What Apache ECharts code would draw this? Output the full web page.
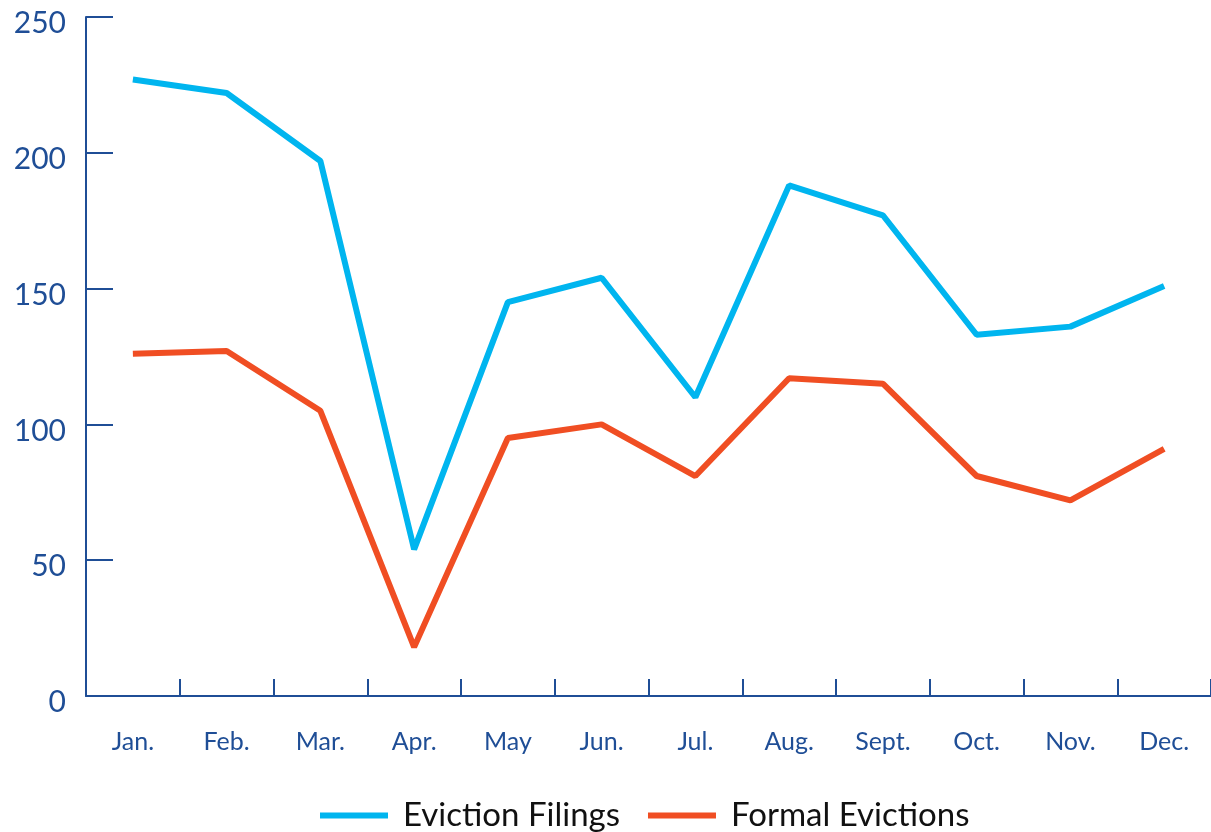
<!DOCTYPE html>
<html><head><meta charset="utf-8">
<script src="https://cdn.jsdelivr.net/npm/echarts@6/dist/echarts.min.js"></script>
<style>html,body{margin:0;padding:0;background:#fff}#c{width:1211px;height:832px}</style>
</head><body><div id="c"></div>
<script>
const categories = ['Jan.','Feb.','Mar.','Apr.','May','Jun.','Jul.','Aug.','Sept.','Oct.','Nov.','Dec.'];
const filings = [227,222,197,54,145,154,110,188,177,133,136,151];
const evictions = [126,127,105,18,95,100,81,117,115,81,72,91];
const seriesNames = ['Eviction Filings','Formal Evictions'];
const axisColor = '#1f4e96';
const font = 'Lato';
const chart = echarts.init(document.getElementById('c'));
chart.setOption({
  animation:false,
  grid:{left:86, top:17, width:1128, height:679, containLabel:false},
  legend:{
    top:794, left:315, itemWidth:68, itemHeight:6, itemGap:28,
    icon:'rect',
    textStyle:{fontFamily:font, fontSize:33, color:'#111', padding:[0,0,0,10]},
    data:seriesNames
  },
  xAxis:{
    type:'category', data:categories, boundaryGap:true,
    axisLine:{lineStyle:{color:axisColor, width:2}},
    axisTick:{show:true, inside:true, length:17, interval:0, lineStyle:{color:axisColor, width:2}},
    axisLabel:{fontFamily:font, fontSize:25, color:axisColor, margin:33}
  },
  yAxis:{
    type:'value', min:0, max:250, interval:50,
    splitLine:{show:false},
    axisLine:{show:true, lineStyle:{color:axisColor, width:2}},
    axisTick:{show:true, inside:true, length:27, lineStyle:{color:axisColor, width:2}},
    axisLabel:{fontFamily:font, fontSize:30, color:axisColor, margin:20, verticalAlign:'top', lineHeight:13}
  },
  series:[
    {name:seriesNames[0], type:'line', data:filings, symbol:'none', lineStyle:{width:6, color:'#00b5ef'}, itemStyle:{color:'#00b5ef'}},
    {name:seriesNames[1], type:'line', data:evictions, symbol:'none', lineStyle:{width:6, color:'#f04e23'}, itemStyle:{color:'#f04e23'}}
  ]
});
</script></body></html>
